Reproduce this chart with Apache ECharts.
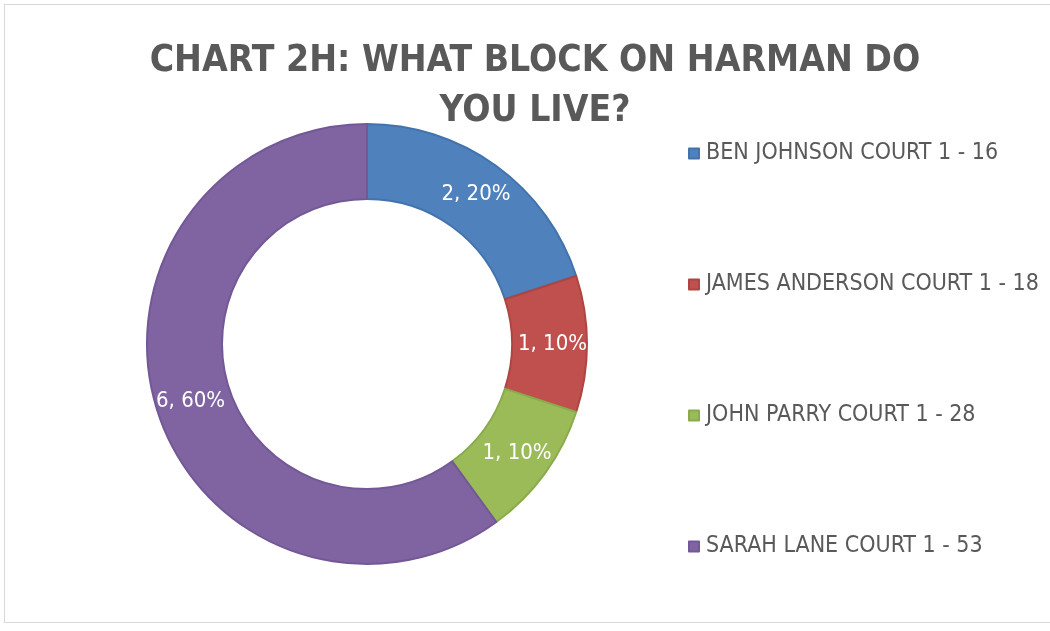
<!DOCTYPE html>
<html>
<head>
<meta charset="utf-8">
<script src="https://cdn.jsdelivr.net/npm/echarts@6/dist/echarts.min.js"></script>
<style>
  html, body { margin: 0; padding: 0; background: #fff; }
  #frame { position: absolute; left: 4px; top: 4px; width: 1060px; height: 617px; border: 1px solid #d9d9d9; }
  #main { position: absolute; left: 0; top: 0; width: 1050px; height: 631px; }
</style>
</head>
<body>
<div id="frame"></div>
<div id="main"></div>
<script>
// blocks on Harman and how many said they live there
const blocks = ['BEN JOHNSON COURT 1 - 16', 'JAMES ANDERSON COURT 1 - 18', 'JOHN PARRY COURT 1 - 28', 'SARAH LANE COURT 1 - 53'];
const counts = [2, 1, 1, 6];
const colors = ['#4f81bd', '#c0504d', '#9bbb59', '#8064a2'];
const borders = ['#4373ad', '#ad4542', '#8aab4c', '#725896'];

const font = '"Liberation Sans Narrow", "DejaVu Sans Condensed", sans-serif';

let chart = echarts.init(document.getElementById('main'));
chart.setOption({
  animation: false,
  title: {
    text: 'CHART 2H: WHAT BLOCK ON HARMAN DO\nYOU LIVE?',
    left: 530,
    top: 31,
    textAlign: 'center',
    textStyle: {
      fontFamily: font,
      fontWeight: 'bold',
      fontSize: 37,
      lineHeight: 50,
      color: '#595959'
    }
  },
  legend: {
    orient: 'vertical',
    left: 683,
    top: 137,
    itemWidth: 10,
    itemHeight: 10,
    itemGap: 108,
    icon: 'rect',
    textStyle: { fontFamily: font, fontSize: 23, color: '#595959', padding: [0, 0, 0, 2] }
  },
  series: [
    {
      type: 'pie',
      center: [367, 344],
      radius: [145, 220],
      startAngle: 90,
      clockwise: true,
      label: {
        position: 'inside',
        color: '#fff',
        fontFamily: font,
        fontSize: 22,
        formatter: p => p.value + ', ' + Math.round(p.percent) + '%'
      },
      labelLine: { show: false },
      data: blocks.map((b, i) => ({
        name: b,
        value: counts[i],
        itemStyle: { color: colors[i], borderColor: borders[i], borderWidth: 2 }
      }))
    }
  ]
});
window.onresize = () => chart.resize();
</script>
</body>
</html>
